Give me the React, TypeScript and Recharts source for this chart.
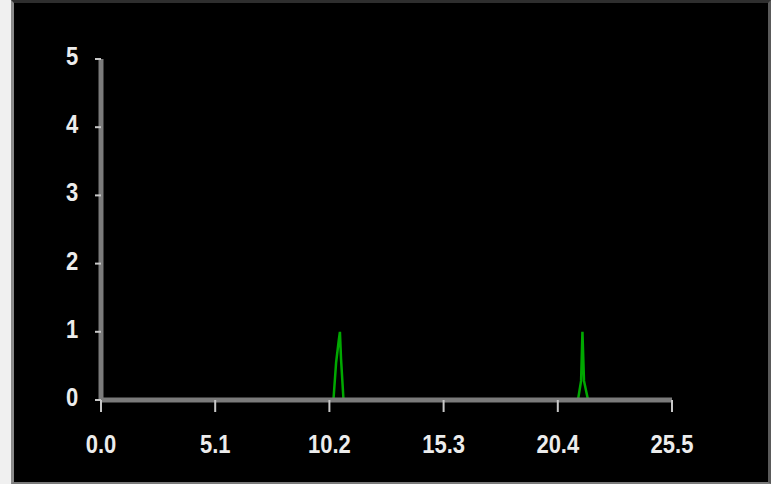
import { LineChart, Line, XAxis, YAxis } from 'recharts'

// trace samples (time, intensity); null splits the two peaks
const traceX = [10.38, 10.5, 10.62, 10.67, 10.72, 10.83, 15, 21.3, 21.44, 21.5, 21.57, 21.75]
const traceY = [0, 0.55, 0.88, 1.0, 0.6, 0, null, 0, 0.28, 1.0, 0.28, 0]

const xTicks = [0.0, 5.1, 10.2, 15.3, 20.4, 25.5]
const yTicks = [0, 1, 2, 3, 4, 5]

const data = traceX.map((x, i) => ({ x, y: traceY[i] }))

const labelFont = {
  fontFamily: '"Liberation Sans", Arial, sans-serif',
  fontWeight: 700,
  fontSize: 22,
  fill: '#ececec',
}

const XTick = ({ x, payload }: { x?: number; payload?: { value: number } }) => (
  <g transform={`translate(${x},453) scale(1,1.2)`}>
    <text x={0} y={0} textAnchor="middle" {...labelFont}>
      {payload?.value.toFixed(1)}
    </text>
  </g>
)

const YTick = ({ y, payload }: { y?: number; payload?: { value: number } }) => (
  <g transform={`translate(72,${(y ?? 0) + 6}) scale(1,1.2)`}>
    <text x={0} y={0} textAnchor="middle" {...labelFont}>
      {payload?.value}
    </text>
  </g>
)

export default function App() {
  return (
    <div style={{ position: 'absolute', left: 0, top: 0, width: 771, height: 484, background: '#f0f0f0' }}>
      <div
        style={{
          position: 'absolute',
          left: 11,
          top: 0,
          width: 754,
          height: 479,
          background: '#000',
          borderLeft: '3px solid #8a8a8a',
          borderRight: '3px solid #5a5a5a',
          borderTop: '3px solid #2e2e2e',
          borderBottom: '2px solid #7a7a7a',
        }}
      />
      <div style={{ position: 'absolute', left: 0, top: 0 }}>
        <LineChart width={771} height={484} data={data} margin={{ top: 59, right: 99, left: 0, bottom: 44 }}>
          <XAxis
            type="number"
            dataKey="x"
            domain={[0, 25.5]}
            ticks={xTicks}
            interval={0}
            height={40}
            axisLine={{ stroke: '#7b7b7b', strokeWidth: 5 }}
            tickLine={{ stroke: '#c8c8c8', strokeWidth: 2 }}
            tickSize={12}
            tick={<XTick />}
          />
          <YAxis
            type="number"
            domain={[0, 5]}
            ticks={yTicks}
            interval={0}
            width={101}
            axisLine={{ stroke: '#7b7b7b', strokeWidth: 5 }}
            tickLine={{ stroke: '#c8c8c8', strokeWidth: 2 }}
            tickSize={6}
            tick={<YTick />}
          />
          <Line
            type="linear"
            dataKey="y"
            stroke="#00a800"
            strokeWidth={2.5}
            dot={false}
            connectNulls={false}
            isAnimationActive={false}
          />
        </LineChart>
      </div>
    </div>
  )
}
